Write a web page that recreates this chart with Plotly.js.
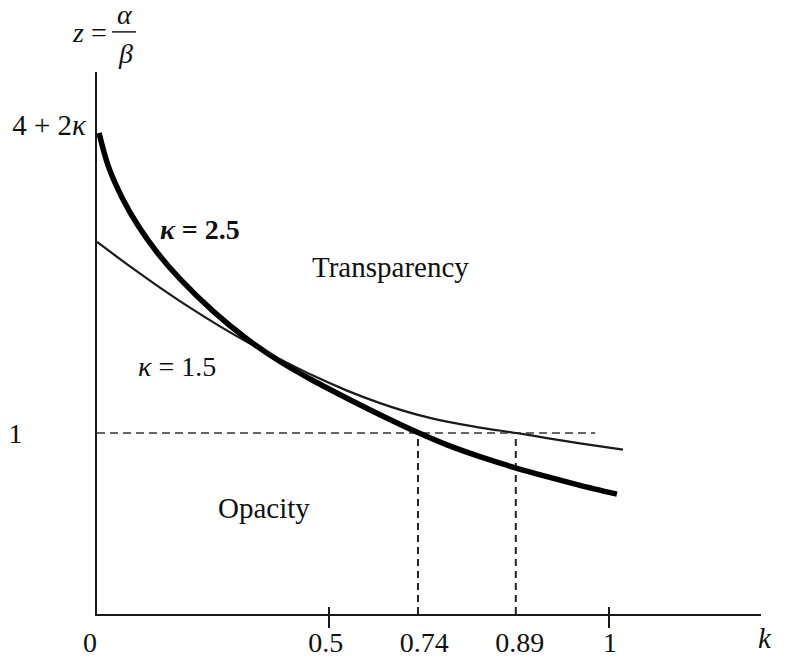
<!DOCTYPE html>
<html>
<head>
<meta charset="utf-8">
<script src="https://cdn.plot.ly/plotly-3.0.1.min.js"></script>
<style>html,body{margin:0;padding:0;background:#fff;}#chart{width:791px;height:659px;}</style>
</head>
<body>
<div id="chart"></div>
<script>
// Schematic axis units (the original figure is not drawn to scale)
// kappa = 2.5 curve (thick)
const kThick = [0.0039, 0.0215, 0.0488, 0.0801, 0.1191, 0.1621, 0.2266, 0.2930, 0.3574, 0.4219, 0.4883, 0.5527, 0.6270, 0.6836, 0.7480, 0.8203, 0.8789, 0.9434, 1.0156];
const zThick = [2.657, 2.478, 2.301, 2.146, 1.991, 1.851, 1.673, 1.519, 1.395, 1.290, 1.192, 1.101, 1.002, 0.934, 0.869, 0.805, 0.759, 0.711, 0.662];
// kappa = 1.5 curve (thin)
const kThin = [0.0000, 0.0645, 0.1230, 0.1816, 0.2402, 0.2988, 0.3574, 0.4219, 0.4883, 0.5527, 0.6270, 0.6836, 0.7480, 0.8184, 0.8789, 0.9434, 1.0273];
const zThin = [2.055, 1.920, 1.803, 1.692, 1.589, 1.494, 1.408, 1.317, 1.234, 1.165, 1.100, 1.063, 1.030, 1.000, 0.972, 0.943, 0.908];
// threshold z = 1 and crossing points (k = 0.74, k = 0.89)
const zThreshold = 1;
const crossK = [0.627, 0.818];
const dashEnd = 0.973;
// tick marks and labels
const xTickMarks = [0.453, 1.0];
const xLabelPos = [0, 0.447, 0.639, 0.826, 1.002];
const xLabelText = ['0\u00a0\u00a0', '0.5', '0.74', '0.89', '1'];
const yLabelLowPos = [1];
const yLabelLowText = ['1'];
const yLabelHighPos = [2.70];
const yLabelHighText = ['4 + 2<i>κ</i>'];
const curveNames = ['<b><i>κ</i> = 2.5</b>', '<i>κ</i> = 1.5'];

const INK = '#1a1a1a';
const FONT = 'Liberation Serif, Times New Roman, serif';

const vx = [], vy = [];
crossK.forEach(k => { vx.push(k, k, null); vy.push(0, zThreshold, null); });

const traces = [
  {x: [0, dashEnd], y: [zThreshold, zThreshold], mode: 'lines', line: {color: '#333', width: 1.6, dash: '8px,5px'}, hoverinfo: 'skip'},
  {x: vx, y: vy, mode: 'lines', line: {color: '#222', width: 2, dash: '7px,5px'}, hoverinfo: 'skip'},
  {x: kThin, y: zThin, mode: 'lines', line: {color: INK, width: 2.2, shape: 'spline', smoothing: 0.8}, hoverinfo: 'skip'},
  {x: kThick, y: zThick, mode: 'lines', line: {color: '#000', width: 5.5, shape: 'spline', smoothing: 0.8}, hoverinfo: 'skip'},
  {x: [null], y: [null], xaxis: 'x2', yaxis: 'y2', mode: 'lines', hoverinfo: 'skip'},
  {x: [null], y: [null], xaxis: 'x3', yaxis: 'y', mode: 'lines', hoverinfo: 'skip'}
];

const xRange = [0, 1.297];
const yRange = [0, 2.994];

function ann(x, y, xref, yref, text, size) {
  return {x: x, y: y, xref: xref, yref: yref, text: text, showarrow: false,
          xanchor: 'center', yanchor: 'middle', font: {family: FONT, size: size, color: '#111'}};
}

const layout = {
  width: 791, height: 659,
  margin: {l: 97, r: 30, t: 72, b: 45},
  paper_bgcolor: '#fff', plot_bgcolor: '#fff',
  showlegend: false,
  font: {family: FONT, size: 28, color: '#111'},
  xaxis: {range: xRange, showline: true, linecolor: INK, linewidth: 2, showgrid: false, zeroline: false,
          tickmode: 'array', tickvals: xTickMarks, ticks: 'outside', ticklen: 12, tickwidth: 2, tickcolor: INK,
          showticklabels: false, fixedrange: true},
  xaxis2: {overlaying: 'x', anchor: 'y', side: 'bottom', range: xRange, showline: false, showgrid: false, zeroline: false,
           tickmode: 'array', tickvals: xLabelPos, ticktext: xLabelText, ticks: '', ticklabelstandoff: 9,
           tickfont: {family: FONT, size: 28, color: '#111'}, fixedrange: true},
  xaxis3: {overlaying: 'x', anchor: 'y', side: 'bottom', range: xRange, showline: false, showgrid: false, zeroline: false,
           tickmode: 'array', tickvals: xTickMarks, ticks: 'inside', ticklen: 7, tickwidth: 2, tickcolor: INK,
           showticklabels: false, fixedrange: true},
  yaxis: {range: yRange, showline: true, linecolor: INK, linewidth: 2, showgrid: false, zeroline: false,
          tickmode: 'array', tickvals: yLabelLowPos, ticktext: yLabelLowText, ticks: '', ticklabelstandoff: 67,
          tickfont: {family: FONT, size: 28, color: '#111'}, fixedrange: true},
  yaxis2: {overlaying: 'y', anchor: 'x', side: 'left', range: yRange, showline: false, showgrid: false, zeroline: false,
           tickmode: 'array', tickvals: yLabelHighPos, ticktext: yLabelHighText, ticks: '', ticklabelstandoff: 10,
           tickfont: {family: FONT, size: 29, color: '#111'}, fixedrange: true},
  annotations: [
    ann(0.201, 2.122, 'x', 'y', curveNames[0], 28),
    ann(0.156, 1.365, 'x', 'y', curveNames[1], 28),
    ann(0.574, 1.917, 'x', 'y', 'Transparency', 29),
    ann(0.326, 0.586, 'x', 'y', 'Opacity', 29),
    ann(1.006, -0.044, 'paper', 'paper', '<i>k</i>', 29),
    ann(-0.0113, 1.072, 'paper', 'paper', '<i>z</i> =', 28),
    ann(0.0422, 1.107, 'paper', 'paper', '<i>α</i>', 28),
    ann(0.0422, 1.035, 'paper', 'paper', '<i>β</i>', 28)
  ],
  shapes: [
    {type: 'line', xref: 'paper', yref: 'paper', x0: 0.0226, x1: 0.0587, y0: 1.074, y1: 1.074, line: {color: INK, width: 1.5}}
  ]
};

Plotly.newPlot('chart', traces, layout, {displayModeBar: false, staticPlot: true});
</script>
</body>
</html>
